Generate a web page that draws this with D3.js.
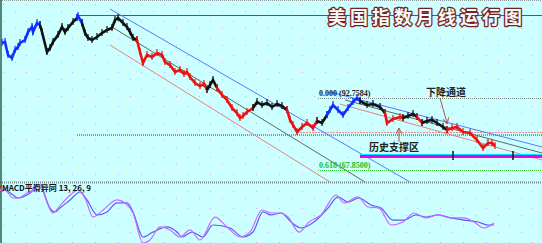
<!DOCTYPE html>
<html>
<head>
<meta charset="utf-8">
<script src="https://cdn.jsdelivr.net/npm/d3@7"></script>
<style>
body { margin: 0; background: #ccffff; }
svg { display: block; }
</style>
</head>
<body>
<svg id="chart" width="542" height="243"></svg>
<script>
/********** data **********/
// weekly bars (bar number) and closing value of the index
var weeks = [2,5,8,12,15,18,20,25,28,32,33,37,40,42,47,50,53,58,62,65,68,73,77,78,82,85,88,92,97,102,107,112,115,118,123,127,130,133,137,140,143,147,152,157,162,165,170,175,180,184,187,190,195,200,204,207,210,213,217,222,227,232,237,240,243,247,253,257,262,267,272,277,282,287,290,293,297,302,307,313,317,322,327,330,333,338,343,348,353,357,360,367,373,380,385,387,393,400,403,408,413,417,422,427,432,437,443,447,452,457,463,470,477,483,488,492,495];
var closes = [111.79,112.13,107.63,106.60,109.36,110.40,111.79,112.82,115.59,117.32,115.59,118.70,118.01,115.59,108.67,110.06,112.13,114.55,117.32,115.59,116.97,119.05,120.43,121.13,118.70,115.24,113.51,112.82,113.86,115.24,116.28,116.97,119.74,120.43,118.70,117.32,115.59,113.51,112.82,108.67,104.87,107.63,106.94,108.33,107.63,105.21,104.17,101.75,102.45,101.06,101.75,100.02,97.95,96.91,97.60,95.53,97.26,98.99,96.22,93.80,92.07,89.30,87.57,85.84,86.53,87.92,89.30,91.38,90.34,91.03,89.64,90.68,89.99,88.61,85.15,83.42,81.00,82.73,84.11,82.38,84.80,84.11,86.88,88.61,90.34,88.61,86.88,89.30,91.38,92.76,91.72,90.34,90.68,89.64,87.57,84.11,85.49,86.19,85.84,86.53,87.22,86.19,84.11,84.80,85.15,84.11,82.73,81.69,82.38,82.73,81.00,80.65,78.23,75.46,77.19,77.19,76.15];

// colour of the price line, each run starts at the given bar
var runStarts = [2,40,77,82,137,207,217,253,287,317,327,360,385,403,417,422,447,495];
var runColors = ["#1030ff","#111111","#1030ff","#111111","#ee1111","#111111","#ee1111","#111111","#ee1111","#111111","#1030ff","#111111","#ee1111","#111111","#ee1111","#111111","#ee1111"];

// trend lines: [bar, value] end points
var mainUpper = [[110,123.55],[410,63.70]];
var mainMid   = [[112,117.32],[365,63.70]];
var mainLower = [[110,111.09],[330,63.70]];
var downUpper = [[330,94.83],[542,75.81]];
var downMid   = [[345,92.07],[542,73.73]];
var downLower = [[340,90.68],[542,71.31]];

// horizontal levels
var topHigh = 121.47, topFrom = 77;
var supportGray = 80.30, supportGrayFrom = 77;
var supportRed = 80.99, supportRedFrom = 297;
var bandCyan = 73.38, bandMagenta = 72.69, bandFrom = 360;
var bandTicks = [453, 513];
var fibLevels = [92.7584, 67.85];
var fibLabels = ["0.000 (92.7584)", "0.618 (67.8500)"];
var fibFrom = 318;

// MACD 13, 26, 9
var difWeeks = [0,5,13,18,27,35,38,42,48,53,58,67,78,85,93,103,117,125,133,143,150,160,170,180,190,200,215,227,240,250,262,271,281,288,299,309,321,336,344,358,368,379,391,403,414,426,438,451,464,474,484,494];
var difVals = [1.53,1.53,1.00,1.00,1.33,1.67,2.33,1.67,0.53,0.00,0.33,1.00,1.53,1.00,-0.27,0.20,0.87,0.67,0.00,-2.00,-1.80,-0.93,-1.13,-1.60,-1.13,-1.80,-0.27,-0.93,-1.60,-1.27,0.20,0.00,0.00,-0.27,-1.27,-0.60,-0.13,1.20,0.67,1.07,0.40,0.33,-0.80,-0.60,0.00,-0.33,-0.13,-0.33,-0.33,-0.60,-1.00,-0.67];
var deaWeeks = [0,5,13,18,27,33,38,43,50,55,60,70,80,87,97,107,117,127,133,143,153,167,177,182,192,203,213,230,243,253,263,271,281,291,301,314,328,338,348,359,371,381,393,404,416,426,438,451,464,478,488,494];
var deaVals = [1.40,1.53,1.20,1.00,1.20,1.53,2.33,1.53,0.33,0.07,0.33,0.87,1.40,0.87,-0.13,0.07,0.67,0.67,0.07,-1.60,-1.27,-0.93,-1.27,-1.60,-1.27,-1.60,-0.80,-1.00,-1.60,-1.27,0.07,-0.13,0.00,-0.60,-1.00,-0.60,0.33,1.07,0.73,1.00,0.53,0.33,-0.47,-0.47,-0.13,-0.27,-0.13,-0.33,-0.47,-0.60,-0.80,-0.80];

/********** chart **********/
var svg = d3.select("#chart"),
    width = +svg.attr("width"),
    height = +svg.attr("height"),
    mainBottom = 182;

var x = d3.scaleLinear().domain([0, 542]).range([0, width]);
var y = d3.scaleLinear().domain([63.70, 126.66]).range([mainBottom, 0]);
var ym = d3.scaleLinear().domain([-2, 2]).range([height, mainBottom + 1]);

var defs = svg.append("defs");

// speckled background
var pat = defs.append("pattern")
    .attr("id", "speckle")
    .attr("width", 23).attr("height", 17)
    .attr("patternUnits", "userSpaceOnUse");
pat.append("rect").attr("width", 23).attr("height", 17).attr("fill", "#ccffff");
[[3,4,"#dca8f2"],[15,11,"#dca8f2"],[9,15,"#e6ffc4"],[20,2,"#e6ffc4"]].forEach(function(d) {
    pat.append("rect").attr("x", d[0]).attr("y", d[1]).attr("width", 1).attr("height", 1).attr("fill", d[2]);
});
svg.append("rect").attr("width", width).attr("height", height).attr("fill", "url(#speckle)");

defs.append("clipPath").attr("id", "clipMain")
    .append("rect").attr("x", 0).attr("y", 0).attr("width", width).attr("height", mainBottom);
defs.append("clipPath").attr("id", "clipMacd")
    .append("rect").attr("x", 0).attr("y", mainBottom + 2).attr("width", width).attr("height", height - mainBottom - 2);

var main = svg.append("g").attr("clip-path", "url(#clipMain)");

function hline(g, val, from, color, w, dash) {
    g.append("line")
        .attr("x1", x(from)).attr("x2", width)
        .attr("y1", Math.round(y(val)) + 0.5).attr("y2", Math.round(y(val)) + 0.5)
        .attr("stroke", color).attr("stroke-width", w)
        .attr("stroke-dasharray", dash || null)
        .attr("shape-rendering", "crispEdges");
}

// horizontal levels
hline(main, topHigh, topFrom, "#5a5a5a", 1);
hline(main, supportGray, supportGrayFrom, "#8a9a9a", 2, "1,1");
hline(main, supportRed, supportRedFrom, "#e08a8a", 1, "2,1");
hline(main, fibLevels[0], fibFrom, "#7a8a8a", 1, "1,1");
hline(main, fibLevels[1], fibFrom, "#33cc33", 1, "1,1");

// trend lines
var tline = d3.line().x(function(d) { return x(d[0]); }).y(function(d) { return y(d[1]); });
[[mainUpper, "#5a78ff"], [mainMid, "#5a6a62"], [mainLower, "#e88080"],
 [downUpper, "#5a78ff"], [downMid, "#5a6a62"], [downLower, "#e88080"]].forEach(function(t) {
    main.append("path").attr("d", tline(t[0])).attr("fill", "none")
        .attr("stroke", t[1]).attr("stroke-width", 1);
});

// support band
hline(main, bandCyan, bandFrom, "#00e8ff", 1.5);
hline(main, bandMagenta, bandFrom, "#ee00ee", 3);
main.selectAll(".bandTick").data(bandTicks).enter().append("line")
    .attr("x1", function(d) { return x(d); }).attr("x2", function(d) { return x(d); })
    .attr("y1", y(bandCyan) - 3).attr("y2", y(bandMagenta) + 4)
    .attr("stroke", "#111").attr("stroke-width", 1.5);

// price line, coloured by trend
var pts = weeks.map(function(w, i) { return [w, closes[i]]; });
var pline = d3.line().x(function(d) { return x(d[0]); }).y(function(d) { return y(d[1]); });
runColors.forEach(function(c, i) {
    var seg = pts.filter(function(d) { return d[0] >= runStarts[i] && d[0] <= runStarts[i + 1]; });
    main.append("path").attr("d", pline(seg)).attr("fill", "none")
        .attr("stroke", c).attr("stroke-width", 2.6).attr("stroke-linejoin", "miter");
    main.selectAll(null).data(seg).enter().append("line")
        .attr("x1", function(d) { return x(d[0]); }).attr("x2", function(d) { return x(d[0]); })
        .attr("y1", function(d) { return y(d[1]) - 4; }).attr("y2", function(d) { return y(d[1]) + 3; })
        .attr("stroke", c).attr("stroke-width", 1.2);
});

// fib labels
fibLabels.forEach(function(t, i) {
    main.append("text")
        .attr("x", x(fibFrom) + 1).attr("y", y(fibLevels[i]) - 2)
        .attr("font-family", "Liberation Serif").attr("font-size", 8).attr("font-weight", "bold")
        .attr("fill", i == 0 ? "#222" : "#22bb22")
        .text(t);
});

// annotations
defs.append("marker").attr("id", "arr")
    .attr("viewBox", "0 0 6 6").attr("refX", 5).attr("refY", 3)
    .attr("markerWidth", 6).attr("markerHeight", 6).attr("orient", "auto")
    .append("path").attr("d", "M0,0 L6,3 L0,6").attr("fill", "none").attr("stroke", "#b05050");

main.append("line").attr("x1", 440).attr("y1", 98).attr("x2", 447).attr("y2", 123)
    .attr("stroke", "#b05050").attr("marker-end", "url(#arr)");
main.append("line").attr("x1", 399).attr("y1", 142).attr("x2", 399).attr("y2", 129)
    .attr("stroke", "#b05050").attr("marker-end", "url(#arr)");

var cjk = "'Noto Sans CJK SC', sans-serif";
main.append("text").attr("x", 426).attr("y", 96)
    .attr("font-family", cjk).attr("font-size", 10).attr("font-weight", "bold").attr("fill", "#222")
    .text("下降通道");
main.append("text").attr("x", 369).attr("y", 151)
    .attr("font-family", cjk).attr("font-size", 10).attr("font-weight", "bold").attr("fill", "#222")
    .text("历史支撑区");

// title, hollow lettering
svg.append("text").attr("x", 328).attr("y", 24)
    .attr("font-family", cjk).attr("font-size", 18).attr("font-weight", "bold")
    .attr("letter-spacing", 4)
    .attr("fill", "#f2fbfb").attr("stroke", "#7a1f1f").attr("stroke-width", 2.6)
    .attr("stroke-linejoin", "round")
    .style("paint-order", "stroke")
    .text("美国指数月线运行图");

// panel borders
svg.append("line").attr("x1", 0).attr("x2", width).attr("y1", 0.5).attr("y2", 0.5)
    .attr("stroke", "#8a9a9a").attr("stroke-dasharray", "1,1");
svg.append("line").attr("x1", 0).attr("x2", width).attr("y1", mainBottom + 0.5).attr("y2", mainBottom + 0.5)
    .attr("stroke", "#7a8a8a").attr("stroke-width", 2).attr("stroke-dasharray", "1,1");
svg.append("line").attr("x1", 1).attr("x2", 1).attr("y1", 0).attr("y2", height)
    .attr("stroke", "#2e5e4e").attr("stroke-width", 1.5);

/********** MACD **********/
var macd = svg.append("g").attr("clip-path", "url(#clipMacd)");
var mline = d3.line().curve(d3.curveMonotoneX)
    .x(function(d) { return x(d[0]); }).y(function(d) { return ym(d[1]); });

macd.append("path")
    .attr("d", mline(deaWeeks.map(function(w, i) { return [w, deaVals[i]]; })))
    .attr("fill", "none").attr("stroke", "#5a5aff").attr("stroke-width", 1.2);
macd.append("path")
    .attr("d", mline(difWeeks.map(function(w, i) { return [w, difVals[i]]; })))
    .attr("fill", "none").attr("stroke", "#cc66ff").attr("stroke-width", 1.2);

svg.append("rect").attr("x", 0).attr("y", mainBottom + 3).attr("width", 2).attr("height", 3).attr("fill", "#e02020");
svg.append("text").attr("x", 2).attr("y", mainBottom + 9)
    .attr("font-family", cjk).attr("font-size", 8).attr("font-weight", "bold").attr("fill", "#111")
    .text("MACD平滑异同 13, 26, 9");
</script>
</body>
</html>
